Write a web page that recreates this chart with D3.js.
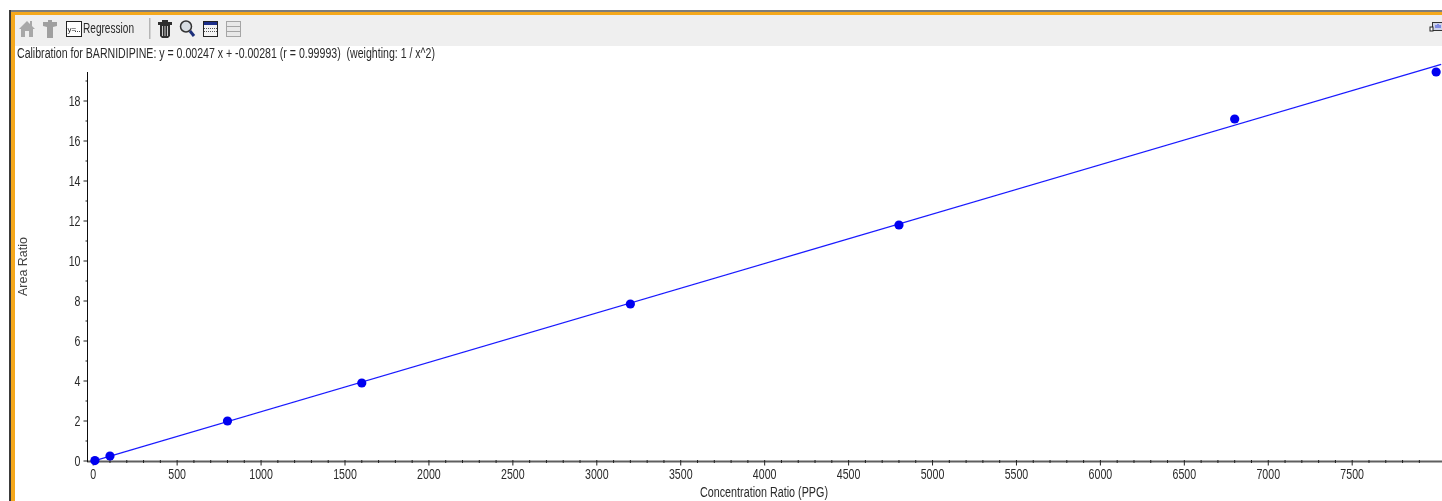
<!DOCTYPE html>
<html>
<head>
<meta charset="utf-8">
<script src="https://cdn.jsdelivr.net/npm/d3@7"></script>
<style>
html, body { margin: 0; padding: 0; background: #fff; overflow: hidden; }
text { font-family: "Liberation Sans", Arial, sans-serif; fill: #2a2a2a; white-space: pre; }
</style>
</head>
<body>
<div id="chart"></div>
<script>
// calibration standards
var concentration = [10, 100, 800, 1600, 3200, 4800, 6800, 8000];
var areaRatio = [0.02, 0.25, 2.0, 3.9, 7.85, 11.8, 17.1, 19.45];

// regression line end points
var lineConc = [0, 8030];
var lineArea = [-0.003, 19.83];

var xTicks = [0, 500, 1000, 1500, 2000, 2500, 3000, 3500, 4000, 4500, 5000, 5500, 6000, 6500, 7000, 7500];
var yTicks = [0, 2, 4, 6, 8, 10, 12, 14, 16, 18];

var titleText = "Calibration for BARNIDIPINE: y = 0.00247 x + -0.00281 (r = 0.99993)  (weighting: 1 / x^2)";
var xLabel = "Concentration Ratio (PPG)";
var yLabel = "Area Ratio";
var buttonLabel = "Regression";

var W = 1442, H = 501;
var svg = d3.select("#chart").append("svg").attr("width", W).attr("height", H).style("display", "block");

// the screenshot is a little soft, so everything goes through a light blur
svg.append("defs").append("filter").attr("id", "soft")
	.attr("filterUnits", "userSpaceOnUse")
	.attr("x", 0).attr("y", 0).attr("width", W).attr("height", H)
	.append("feGaussianBlur").attr("stdDeviation", 0.4);

var root = svg.append("g").attr("filter", "url(#soft)");

// window frame and toolbar
root.append("rect").attr("x", 15).attr("y", 15).attr("width", W - 15).attr("height", 31).attr("fill", "#efefef");
root.append("rect").attr("x", 9).attr("y", 10).attr("width", W - 9).attr("height", 2).attr("fill", "#7d7d7d");
root.append("rect").attr("x", 11).attr("y", 12).attr("width", W - 11).attr("height", 3).attr("fill", "#f5a81c");
root.append("rect").attr("x", 9).attr("y", 10).attr("width", 2).attr("height", H - 10).attr("fill", "#3a3a3a");
root.append("rect").attr("x", 11).attr("y", 12).attr("width", 4).attr("height", H - 12).attr("fill", "#f5a81c");

// a text that has to fill a known width (the original font is narrow)
function fitText(sel, width) {
	return sel.attr("textLength", width).attr("lengthAdjust", "spacingAndGlyphs");
}

var bar = root.append("g");
// home
bar.append("path").attr("fill", "#a8a8a8")
	.attr("d", "M19 29 L27 21 L30 24 L30 21 L32 21 L32 26 L35 29 L33 29 L33 37 L29 37 L29 31 L25 31 L25 37 L21 37 L21 29 Z");
// peak icon
bar.append("path").attr("fill", "#a0a0a0")
	.attr("d", "M43 22 L48 22 L48 20 L52 20 L52 22 L57 22 L57 26 L53 27 L53 38 L47 38 L47 27 L43 26 Z");
// regression button
bar.append("rect").attr("x", 66.5).attr("y", 21.5).attr("width", 15).attr("height", 15).attr("fill", "#fff").attr("stroke", "#222");
bar.append("text").attr("x", 67.5).attr("y", 32).attr("font-size", 8).style("fill", "#222").text("y=");
bar.append("path").attr("d", "M75 31.5 H80").attr("stroke", "#444").attr("stroke-dasharray", "1 1");
fitText(bar.append("text").attr("x", 83).attr("y", 33).attr("font-size", 14).text(buttonLabel), 51);
// separator
bar.append("rect").attr("x", 149).attr("y", 18).attr("width", 1.5).attr("height", 21).attr("fill", "#b5b5b5");
// trash
bar.append("path").attr("fill", "#2e2e2e")
	.attr("d", "M158 22 L162 22 L162 20 L168 20 L168 22 L172 22 L172 25 L170 25 L170 36 L168 38 L162 38 L160 36 L160 25 L158 25 Z");
bar.append("path").attr("d", "M162.5 26 V36 M165 26 V36 M167.5 26 V36").attr("stroke", "#ddd").attr("stroke-width", 0.9);
// magnifier
bar.append("circle").attr("cx", 186).attr("cy", 26.5).attr("r", 5.5).attr("fill", "#d8dde2").attr("stroke", "#333").attr("stroke-width", 1.5);
bar.append("path").attr("d", "M190 31 L194 36").attr("stroke", "#1d2f7a").attr("stroke-width", 3);
// table
bar.append("rect").attr("x", 203.5).attr("y", 21.5).attr("width", 14).attr("height", 15).attr("fill", "#f4f4f4").attr("stroke", "#222");
bar.append("rect").attr("x", 204).attr("y", 22).attr("width", 13).attr("height", 3).attr("fill", "#1c2f8a");
bar.append("path").attr("d", "M204 28.5 H217 M204 31.5 H217").attr("stroke", "#555").attr("stroke-dasharray", "1 1");
// greyed table
bar.append("rect").attr("x", 226.5).attr("y", 21.5).attr("width", 14).attr("height", 15).attr("fill", "#e8e8e8").attr("stroke", "#a5a5a5");
bar.append("path").attr("d", "M227 26.5 H240 M227 31.5 H240").attr("stroke", "#a5a5a5");
// icon cut off at the right edge
bar.append("rect").attr("x", 1432.5).attr("y", 22.5).attr("width", 12).attr("height", 8).attr("fill", "#cfd3e8").attr("stroke", "#333");
bar.append("rect").attr("x", 1430).attr("y", 27).attr("width", 3).attr("height", 4).attr("fill", "#fff").attr("stroke", "#222");
bar.append("path").attr("d", "M1436 28 V25 M1438 28 V24 M1440 28 V25").attr("stroke", "#3344dd");

// title
fitText(root.append("text").attr("x", 17).attr("y", 58).attr("font-size", 14).text(titleText), 418);

// scales
var x = d3.scaleLinear().domain([0, 7500]).range([93.2, 1352.2]);
var y = d3.scaleLinear().domain([0, 18]).range([461, 101]);

var axisX = 87;

// x axis: thick grey rule, minor ticks barely poke out of it
var xMinor = d3.range(0, 8100, 100).filter(function(d) { return d % 500 !== 0; });
root.append("rect").attr("x", axisX).attr("y", 460.5).attr("width", W - axisX).attr("height", 2).attr("fill", "#5e5e5e");
root.selectAll(".xMinor").data(xMinor).enter().append("line")
	.attr("x1", x).attr("x2", x).attr("y1", 460).attr("y2", 463)
	.attr("stroke", "#222");
root.selectAll(".xMajor").data(xTicks).enter().append("line")
	.attr("x1", x).attr("x2", x).attr("y1", 460).attr("y2", 465.5)
	.attr("stroke", "#222");
root.selectAll(".xLab").data(xTicks).enter().append("text")
	.attr("x", x).attr("y", 479).attr("text-anchor", "middle").attr("font-size", 14)
	.attr("transform", function(d) { return "translate(" + x(d) + ",0) scale(0.76,1) translate(" + (-x(d)) + ",0)"; })
	.text(function(d) { return d; });

// y axis
var yMinor = d3.range(1, 20, 2);
root.append("line").attr("x1", axisX + 0.5).attr("x2", axisX + 0.5).attr("y1", 72).attr("y2", 462).attr("stroke", "#111");
root.selectAll(".yMinor").data(yMinor).enter().append("line")
	.attr("x1", axisX - 1.5).attr("x2", axisX).attr("y1", y).attr("y2", y).attr("stroke", "#222");
root.selectAll(".yMajor").data(yTicks).enter().append("line")
	.attr("x1", axisX - 3.5).attr("x2", axisX).attr("y1", y).attr("y2", y).attr("stroke", "#222");
root.selectAll(".yLab").data(yTicks).enter().append("text")
	.attr("x", 80.5).attr("y", function(d) { return y(d) + 5; }).attr("text-anchor", "end").attr("font-size", 14)
	.attr("transform", "translate(80.5,0) scale(0.76,1) translate(-80.5,0)")
	.text(function(d) { return d; });

// axis titles
fitText(root.append("text").attr("x", 700).attr("y", 497).attr("font-size", 14).text(xLabel), 128);
fitText(root.append("text").attr("transform", "translate(27,296) rotate(-90)").attr("font-size", 12).style("fill", "#444").text(yLabel), 59);

// regression line and points
var line = d3.line().x(function(d) { return x(d[0]); }).y(function(d) { return y(d[1]); });
root.append("path").attr("d", line(d3.zip(lineConc, lineArea))).attr("fill", "none").attr("stroke", "#1a1aff").attr("stroke-width", 1.3);

root.selectAll(".pt").data(d3.zip(concentration, areaRatio)).enter().append("circle")
	.attr("cx", function(d) { return x(d[0]); })
	.attr("cy", function(d) { return y(d[1]); })
	.attr("r", 4.6).attr("fill", "#0000f0");
</script>
</body>
</html>
